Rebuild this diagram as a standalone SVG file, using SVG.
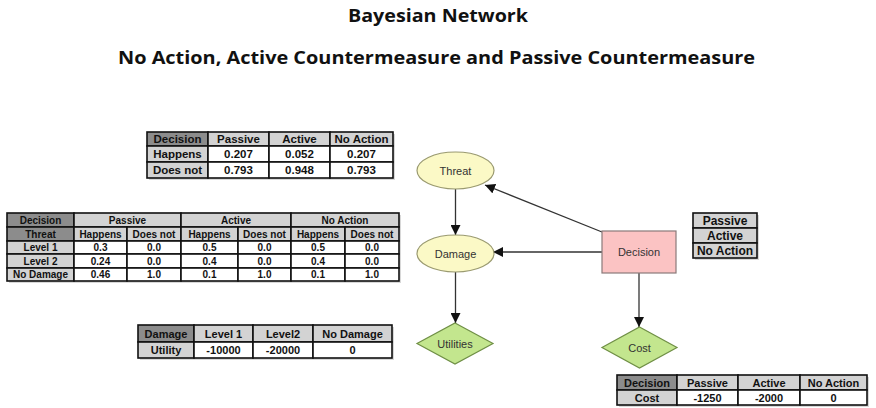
<svg xmlns="http://www.w3.org/2000/svg" width="876" height="408" viewBox="0 0 876 408">
<style>
.title{font-family:"Open Sans","Liberation Sans",sans-serif;font-weight:bold;fill:#111;text-anchor:middle}
.t{font-family:"Liberation Sans",Arial,sans-serif;font-weight:bold;fill:#111;text-anchor:middle}
.nl{font-family:"Liberation Sans",Arial,sans-serif;font-size:11px;fill:#333;text-anchor:middle}
.dk{fill:#8c8c8c;stroke:#111;stroke-width:1.6}
.lt{fill:#d3d3d3;stroke:#111;stroke-width:1.6}
.wh{fill:#ffffff;stroke:#111;stroke-width:1.6}
.sh{fill:#d8d8d8}
.ell{fill:#fbf9c6;stroke:#9a9a70;stroke-width:1.2}
.dec{fill:#fbc3c3;stroke:#8a7a7a;stroke-width:1.2}
.dia{fill:#c3e68e;stroke:#6f8f45;stroke-width:1.2}
.edge{stroke:#333;stroke-width:1.3;fill:none;marker-end:url(#ah)}
</style>
<defs>
<marker id="ah" viewBox="0 0 10 10" refX="10" refY="5" markerWidth="10" markerHeight="10" markerUnits="userSpaceOnUse" orient="auto">
<path d="M0,0 L10,5 L0,10 z" fill="#111"/>
</marker>
</defs>
<rect width="876" height="408" fill="#fff"/>
<text class="title" x="438" y="22" font-size="18" textLength="180" lengthAdjust="spacingAndGlyphs">Bayesian Network</text>
<text class="title" x="436.5" y="64" font-size="18.5" textLength="637" lengthAdjust="spacingAndGlyphs">No Action, Active Countermeasure and Passive Countermeasure</text>

<g id="connectors">
<line class="edge" x1="455.5" y1="189" x2="455.5" y2="235"/>
<line class="edge" x1="602" y1="232" x2="485" y2="185"/>
<line class="edge" x1="602" y1="252" x2="493" y2="252"/>
<line class="edge" x1="455.5" y1="272" x2="455.5" y2="323"/>
<line class="edge" x1="639" y1="273" x2="639" y2="327"/>
</g>

<g id="threat">
<ellipse class="ell" cx="455.5" cy="170.5" rx="38.5" ry="18.5"/>
<text class="nl" x="455.5" y="174.5">Threat</text>
</g>
<g id="damage">
<ellipse class="ell" cx="455.5" cy="253.5" rx="38.5" ry="18.5"/>
<text class="nl" x="455.5" y="257.5">Damage</text>
</g>
<g id="decision">
<rect class="dec" x="602" y="231" width="74" height="42"/>
<text class="nl" x="639" y="256">Decision</text>
</g>
<g id="utilities">
<polygon class="dia" points="455,323 493,343.5 455,364 417,343.5"/>
<text class="nl" x="455" y="347.5">Utilities</text>
</g>
<g id="cost">
<polygon class="dia" points="639.5,327 677,347.5 639.5,368 602,347.5"/>
<text class="nl" x="639.5" y="351.5">Cost</text>
</g>

<g id="table-threat" font-size="11.5">
<rect class="sh" x="149" y="134" width="246" height="46"/>
<rect class="dk" x="147" y="132" width="61" height="14"/>
<rect class="lt" x="208" y="132" width="61" height="14"/>
<rect class="lt" x="269" y="132" width="61" height="14"/>
<rect class="lt" x="330" y="132" width="63" height="14"/>
<rect class="lt" x="147" y="146" width="61" height="16"/>
<rect class="wh" x="208" y="146" width="61" height="16"/>
<rect class="wh" x="269" y="146" width="61" height="16"/>
<rect class="wh" x="330" y="146" width="63" height="16"/>
<rect class="lt" x="147" y="162" width="61" height="16"/>
<rect class="wh" x="208" y="162" width="61" height="16"/>
<rect class="wh" x="269" y="162" width="61" height="16"/>
<rect class="wh" x="330" y="162" width="63" height="16"/>
<text class="t" font-size="11.5" x="177.5" y="143">Decision</text>
<text class="t" font-size="11.5" x="238.5" y="143">Passive</text>
<text class="t" font-size="11.5" x="299.5" y="143">Active</text>
<text class="t" font-size="11.5" x="361.5" y="143">No Action</text>
<text class="t" font-size="11.5" x="177.5" y="158">Happens</text>
<text class="t" font-size="11.5" x="238.5" y="158">0.207</text>
<text class="t" font-size="11.5" x="299.5" y="158">0.052</text>
<text class="t" font-size="11.5" x="361.5" y="158">0.207</text>
<text class="t" font-size="11.5" x="177.5" y="174">Does not</text>
<text class="t" font-size="11.5" x="238.5" y="174">0.793</text>
<text class="t" font-size="11.5" x="299.5" y="174">0.948</text>
<text class="t" font-size="11.5" x="361.5" y="174">0.793</text>
</g>

<g id="table-damage">
<rect class="sh" x="9" y="215" width="392" height="68"/>
<rect class="dk" x="7" y="213" width="67" height="14"/>
<rect class="lt" x="74" y="213" width="107" height="14"/>
<rect class="lt" x="181" y="213" width="110" height="14"/>
<rect class="lt" x="291" y="213" width="108" height="14"/>
<rect class="dk" x="7" y="227" width="67" height="14"/>
<rect class="lt" x="74" y="227" width="53" height="14"/>
<rect class="lt" x="127" y="227" width="54" height="14"/>
<rect class="lt" x="181" y="227" width="57" height="14"/>
<rect class="lt" x="238" y="227" width="53" height="14"/>
<rect class="lt" x="291" y="227" width="54" height="14"/>
<rect class="lt" x="345" y="227" width="54" height="14"/>
<rect class="lt" x="7" y="241" width="67" height="13"/>
<rect class="lt" x="7" y="254" width="67" height="14"/>
<rect class="lt" x="7" y="268" width="67" height="13"/>
<g class="wh">
<rect x="74" y="241" width="53" height="13"/><rect x="127" y="241" width="54" height="13"/><rect x="181" y="241" width="57" height="13"/><rect x="238" y="241" width="53" height="13"/><rect x="291" y="241" width="54" height="13"/><rect x="345" y="241" width="54" height="13"/>
<rect x="74" y="254" width="53" height="14"/><rect x="127" y="254" width="54" height="14"/><rect x="181" y="254" width="57" height="14"/><rect x="238" y="254" width="53" height="14"/><rect x="291" y="254" width="54" height="14"/><rect x="345" y="254" width="54" height="14"/>
<rect x="74" y="268" width="53" height="13"/><rect x="127" y="268" width="54" height="13"/><rect x="181" y="268" width="57" height="13"/><rect x="238" y="268" width="53" height="13"/><rect x="291" y="268" width="54" height="13"/><rect x="345" y="268" width="54" height="13"/>
</g>
<g class="t" font-size="10">
<text x="40.5" y="223.5">Decision</text>
<text x="127.5" y="223.5">Passive</text>
<text x="236" y="223.5">Active</text>
<text x="345" y="223.5">No Action</text>
<text x="40.5" y="237.5">Threat</text>
<text x="100.5" y="237.5">Happens</text>
<text x="154" y="237.5">Does not</text>
<text x="209.5" y="237.5">Happens</text>
<text x="264.5" y="237.5">Does not</text>
<text x="318" y="237.5">Happens</text>
<text x="372" y="237.5">Does not</text>
<text x="40.5" y="251">Level 1</text>
<text x="100.5" y="251">0.3</text>
<text x="154" y="251">0.0</text>
<text x="209.5" y="251">0.5</text>
<text x="264.5" y="251">0.0</text>
<text x="318" y="251">0.5</text>
<text x="372" y="251">0.0</text>
<text x="40.5" y="264.5">Level 2</text>
<text x="100.5" y="264.5">0.24</text>
<text x="154" y="264.5">0.0</text>
<text x="209.5" y="264.5">0.4</text>
<text x="264.5" y="264.5">0.0</text>
<text x="318" y="264.5">0.4</text>
<text x="372" y="264.5">0.0</text>
<text x="40.5" y="278">No Damage</text>
<text x="100.5" y="278">0.46</text>
<text x="154" y="278">1.0</text>
<text x="209.5" y="278">0.1</text>
<text x="264.5" y="278">1.0</text>
<text x="318" y="278">0.1</text>
<text x="372" y="278">1.0</text>
</g>
</g>

<g id="table-utility">
<rect class="sh" x="140" y="327" width="254" height="33"/>
<rect class="dk" x="138" y="325" width="56" height="17"/>
<rect class="lt" x="194" y="325" width="59" height="17"/>
<rect class="lt" x="253" y="325" width="60" height="17"/>
<rect class="lt" x="313" y="325" width="79" height="17"/>
<rect class="lt" x="138" y="342" width="56" height="16"/>
<rect class="wh" x="194" y="342" width="59" height="16"/>
<rect class="wh" x="253" y="342" width="60" height="16"/>
<rect class="wh" x="313" y="342" width="79" height="16"/>
<g class="t" font-size="11">
<text x="166" y="337.5">Damage</text>
<text x="223.5" y="337.5">Level 1</text>
<text x="283" y="337.5">Level2</text>
<text x="352.5" y="337.5">No Damage</text>
<text x="166" y="354">Utility</text>
<text x="223.5" y="354">-10000</text>
<text x="283" y="354">-20000</text>
<text x="352.5" y="354">0</text>
</g>
</g>

<g id="table-cost">
<rect class="sh" x="619" y="377" width="250" height="30"/>
<rect class="dk" x="617" y="375" width="60" height="15"/>
<rect class="lt" x="677" y="375" width="61" height="15"/>
<rect class="lt" x="738" y="375" width="62" height="15"/>
<rect class="lt" x="800" y="375" width="67" height="15"/>
<rect class="lt" x="617" y="390" width="60" height="15"/>
<rect class="wh" x="677" y="390" width="61" height="15"/>
<rect class="wh" x="738" y="390" width="62" height="15"/>
<rect class="wh" x="800" y="390" width="67" height="15"/>
<g class="t" font-size="11">
<text x="647" y="386.5">Decision</text>
<text x="707.5" y="386.5">Passive</text>
<text x="769" y="386.5">Active</text>
<text x="833.5" y="386.5">No Action</text>
<text x="647" y="401.5">Cost</text>
<text x="707.5" y="401.5">-1250</text>
<text x="769" y="401.5">-2000</text>
<text x="833.5" y="401.5">0</text>
</g>
</g>

<g id="table-decision-states">
<rect class="sh" x="695" y="215" width="64" height="45"/>
<rect class="lt" x="693" y="213" width="64" height="15"/>
<rect class="lt" x="693" y="228" width="64" height="15"/>
<rect class="lt" x="693" y="243" width="64" height="15"/>
<g class="t" font-size="12">
<text x="725" y="224.5">Passive</text>
<text x="725" y="239.5">Active</text>
<text x="725" y="254.5">No Action</text>
</g>
</g>
</svg>
